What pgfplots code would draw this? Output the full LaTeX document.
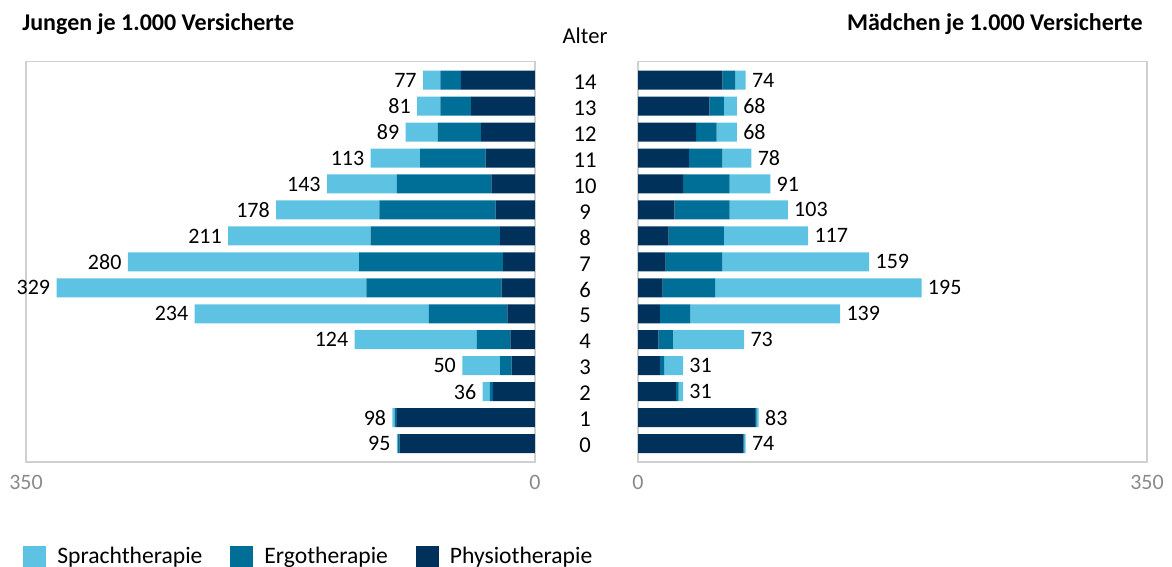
\documentclass[border=0pt]{standalone}
\usepackage{fontspec}
\setmainfont{Carlito}
\usepackage{pgfplots}
\usepackage{pgfplotstable}
\pgfplotsset{compat=1.18}

\definecolor{sprach}{HTML}{5EC2E3}
\definecolor{ergo}{HTML}{006F98}
\definecolor{physio}{HTML}{00315A}
\definecolor{rahmen}{HTML}{D0D0D0}
\definecolor{ticktext}{HTML}{8A8A8A}

% Jungen je 1.000 Versicherte
\pgfplotstableread{
age physio ergo sprach total nil
0  93   1.5 0.5 95  0
1  95   1.5 1.5 98  0
2  29   2   5   36  0
3  16   8   26  50  0
4  17   23  84  124 0
5  19   54  161 234 0
6  23   93  213 329 0
7  22   99  159 280 0
8  24   89  98  211 0
9  27   80  71  178 0
10 30   65  48  143 0
11 34   45  34  113 0
12 37   30  22  89  0
13 44   21  16  81  0
14 51   14  12  77  0
}\jungen

% Maedchen je 1.000 Versicherte
\pgfplotstableread{
age physio ergo sprach total nil
0  72.5 0.5 1   74  0
1  80.5 1   1.5 83  0
2  26   2   3   31  0
3  15   3   13  31  0
4  14   10  49  73  0
5  15   21  103 139 0
6  17   36  142 195 0
7  19   39  101 159 0
8  21   38  58  117 0
9  25   38  40  103 0
10 31   32  28  91  0
11 35   23  20  78  0
12 40   14  14  68  0
13 49   10  9   68  0
14 58   9   7   74  0
}\maedchen

\pgfplotsset{
  pyr/.style={
    scale only axis, width=254.5pt, height=200.15pt,
    xbar stacked, bar width=9.5pt,
    stacked ignores zero=false,
    xmin=0, xmax=350, ymin=-0.71, ymax=14.71,
    enlargelimits=false,
    xtick={0,350}, major tick length=0,
    axis line style={draw=rahmen, line width=0.7pt},
    /pgf/number format/assume math mode=true,
    xticklabel style={font=\fontsize{11}{13}\selectfont, text=ticktext, yshift=-3pt},
    every node near coord/.append style={font=\fontsize{11}{13}\selectfont, text=black, inner sep=3pt},
  },
}

\begin{document}
\begin{tikzpicture}
\useasboundingbox (0,0) rectangle (586pt,-283.5pt);

\node[anchor=west, font=\fontsize{12}{14}\selectfont\bfseries, inner sep=0] at (11pt,-12pt) {Jungen je 1.000 Versicherte};
\node[anchor=east, font=\fontsize{12}{14}\selectfont\bfseries, inner sep=0] at (571.5pt,-12pt) {Mädchen je 1.000 Versicherte};
\node[font=\fontsize{11.3}{13}\selectfont, inner sep=0] at (292.5pt,-18pt) {Alter};

\begin{axis}[pyr, at={(13pt,-231pt)}, anchor=south west,
  x dir=reverse, ytick=\empty,
  every node near coord/.append style={anchor=east},
  reverse legend,
  legend columns=3,
  legend style={at={(-0.006,-0.2375)}, anchor=west, draw=none, fill=none,
    inner sep=0pt, font=\fontsize{11.8}{14}\selectfont,
    /tikz/every odd column/.append style={column sep=3.5pt},
    /tikz/every even column/.append style={column sep=12pt}},
  legend image code/.code={\fill[#1] (0pt,-5.75pt) rectangle (11.5pt,5.75pt);},
]
\addplot[fill=physio, draw=none] table[x=physio, y=age] {\jungen};
\addlegendentry{Physiotherapie}
\addplot[fill=ergo, draw=none] table[x=ergo, y=age] {\jungen};
\addlegendentry{Ergotherapie}
\addplot[fill=sprach, draw=none] table[x=sprach, y=age] {\jungen};
\addlegendentry{Sprachtherapie}
% Summen am Balkenende
\addplot[draw=none, fill=none, forget plot, nodes near coords, point meta=explicit symbolic]
  table[x=nil, y=age, meta=total] {\jungen};
\end{axis}

\begin{axis}[pyr, at={(319pt,-231pt)}, anchor=south west,
  ytick={0,...,14},
  yticklabel style={anchor=center, xshift=-26.5pt, yshift=-1pt, font=\fontsize{11.3}{13}\selectfont},
  every node near coord/.append style={anchor=west},
]
\addplot[fill=physio, draw=none] table[x=physio, y=age] {\maedchen};
\addplot[fill=ergo, draw=none] table[x=ergo, y=age] {\maedchen};
\addplot[fill=sprach, draw=none] table[x=sprach, y=age] {\maedchen};
\addplot[draw=none, fill=none, forget plot, nodes near coords, point meta=explicit symbolic]
  table[x=nil, y=age, meta=total] {\maedchen};
\end{axis}
\end{tikzpicture}
\end{document}
